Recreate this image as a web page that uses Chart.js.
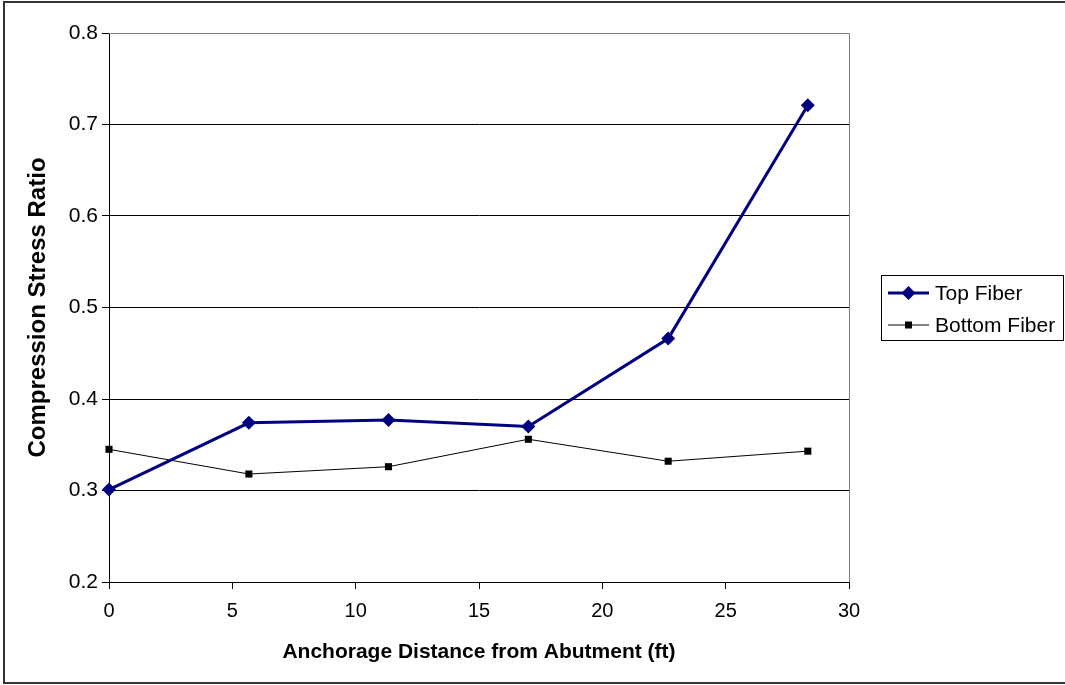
<!DOCTYPE html>
<html>
<head>
<meta charset="utf-8">
<script src="https://cdn.jsdelivr.net/npm/chart.js@4"></script>
<style>
html,body{margin:0;padding:0;background:#fff;}
#wrap{width:1065px;height:685px;position:relative;}
</style>
</head>
<body>
<div id="wrap"><canvas id="c" width="1065" height="685"></canvas></div>
<script>
const distances = [0, 5.67, 11.33, 17, 22.67, 28.33];
const topFiber = [0.301, 0.374, 0.377, 0.370, 0.466, 0.721];
const bottomFiber = [0.345, 0.318, 0.326, 0.356, 0.332, 0.343];
const seriesNames = ['Top Fiber', 'Bottom Fiber'];
const xTitle = 'Anchorage Distance from Abutment (ft)';
const yTitle = 'Compression Stress Ratio';

const FONT = "'Liberation Sans', Arial, sans-serif";

const framePlugin = {
  id: 'frame',
  beforeDraw(chart) {
    const ctx = chart.ctx;
    ctx.save();
    ctx.fillStyle = '#fff';
    ctx.fillRect(0, 0, chart.width, chart.height);
    ctx.strokeStyle = '#333';
    ctx.lineWidth = 2;
    ctx.strokeRect(4, 2, chart.width + 10, 681);
    ctx.restore();
  },
  beforeDatasetsDraw(chart) {
    const {ctx, chartArea: a} = chart;
    ctx.save();
    ctx.strokeStyle = '#808080';
    ctx.lineWidth = 1;
    ctx.beginPath();
    ctx.moveTo(a.left, a.top + 0.5);
    ctx.lineTo(a.right + 0.5, a.top + 0.5);
    ctx.lineTo(a.right + 0.5, a.bottom);
    ctx.stroke();
    ctx.restore();
  },
  afterDraw(chart) {
    const ctx = chart.ctx;
    ctx.save();
    const bx = 881, by = 275, bw = 182, bh = 65;
    ctx.strokeStyle = '#000';
    ctx.lineWidth = 1;
    ctx.strokeRect(bx + 0.5, by + 0.5, bw, bh);
    const rows = [293, 325];
    chart.data.datasets.forEach((ds, i) => {
      const y = rows[i];
      ctx.strokeStyle = ds.borderColor;
      ctx.lineWidth = ds.borderWidth;
      ctx.beginPath();
      ctx.moveTo(888, y);
      ctx.lineTo(929, y);
      ctx.stroke();
      ctx.fillStyle = ds.pointBackgroundColor;
      if (ds.pointStyle === 'rectRot') {
        const r = 7;
        ctx.beginPath();
        ctx.moveTo(908.5, y - r);
        ctx.lineTo(908.5 + r, y);
        ctx.lineTo(908.5, y + r);
        ctx.lineTo(908.5 - r, y);
        ctx.closePath();
        ctx.fill();
      } else {
        ctx.fillRect(905, y - 3.5, 7, 7);
      }
      ctx.fillStyle = '#000';
      ctx.font = '21px ' + FONT;
      ctx.textBaseline = 'middle';
      ctx.textAlign = 'left';
      ctx.fillText(ds.label, 935, y + 1);
    });
    ctx.restore();
  }
};

new Chart(document.getElementById('c'), {
  type: 'line',
  data: {
    datasets: [
      {
        label: seriesNames[0],
        data: distances.map((x, i) => ({x, y: topFiber[i]})),
        borderColor: '#000080',
        backgroundColor: '#000080',
        pointBackgroundColor: '#000080',
        pointBorderColor: '#000080',
        borderWidth: 3,
        pointStyle: 'rectRot',
        pointRadius: 7,
        pointBorderWidth: 0,
        tension: 0
      },
      {
        label: seriesNames[1],
        data: distances.map((x, i) => ({x, y: bottomFiber[i]})),
        borderColor: '#000000',
        backgroundColor: '#000000',
        pointBackgroundColor: '#000000',
        pointBorderColor: '#000000',
        borderWidth: 1,
        pointStyle: 'rect',
        pointRadius: 5,
        pointBorderWidth: 0,
        tension: 0
      }
    ]
  },
  options: {
    responsive: false,
    animation: false,
    clip: false,
    layout: {padding: {left: 0, top: 33, right: 216, bottom: 0}},
    plugins: {legend: {display: false}, tooltip: {enabled: false}},
    scales: {
      x: {
        type: 'linear',
        min: 0, max: 30,
        afterFit(s) { s.height = 103; },
        ticks: {stepSize: 5, color: '#000', font: {family: FONT, size: 20}, padding: 10, maxRotation: 0},
        grid: {drawOnChartArea: false, color: '#000', tickLength: 7},
        border: {color: '#000', width: 1},
        title: {display: true, text: xTitle, color: '#000', font: {family: FONT, size: 21, weight: 'bold'}, padding: {top: 0, bottom: 20}}
      },
      y: {
        min: 0.2, max: 0.8,
        afterFit(s) { s.width = 109; },
        ticks: {stepSize: 0.1, color: '#000', font: {family: FONT, size: 21}, padding: 4,
          callback: v => Number(v).toFixed(1)},
        grid: {color: '#000', tickLength: 7},
        border: {color: '#000', width: 1},
        title: {display: true, text: yTitle, color: '#000', font: {family: FONT, size: 24, weight: 'bold'}, padding: {top: 24, bottom: 0}}
      }
    }
  },
  plugins: [framePlugin]
});
</script>
</body>
</html>
